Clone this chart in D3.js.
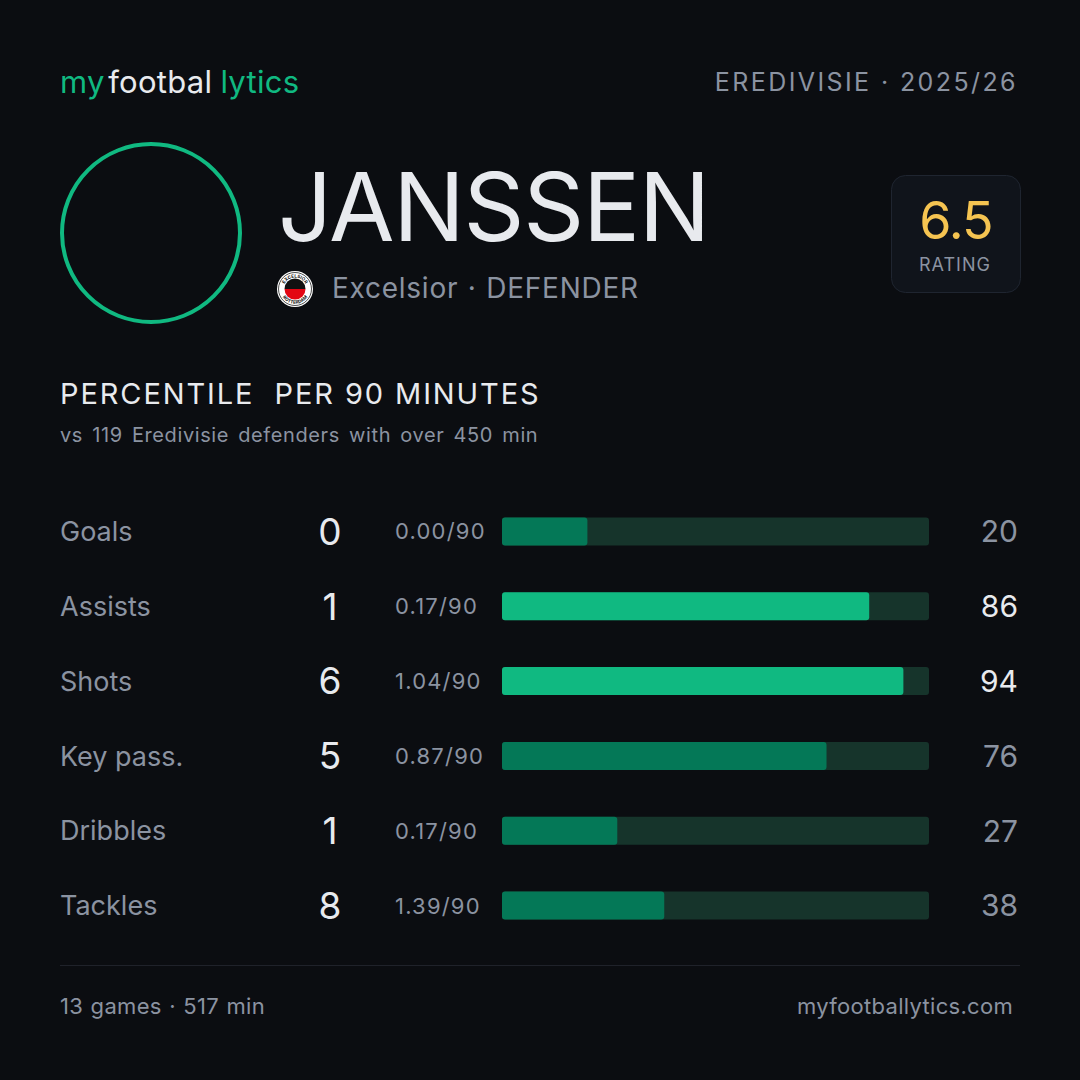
<!DOCTYPE html>
<html>
<head>
<meta charset="utf-8">
<script src="https://cdn.jsdelivr.net/npm/d3@7"></script>
<style>
  html, body { margin: 0; padding: 0; background: #0b0d11; }
  svg { display: block; font-family: Inter, "Noto Sans", sans-serif; }
</style>
</head>
<body>
<svg id="card" width="1080" height="1080"></svg>
<script>
// player data
const playerName = 'JANSSEN'
const club = 'Excelsior'
const position = 'DEFENDER'
const competition = 'EREDIVISIE · 2025/26'
const rating = '6.5'
const games = 13
const minutes = 517

// stat rows
const statLabels = ['Goals', 'Assists', 'Shots', 'Key pass.', 'Dribbles', 'Tackles']
const statTotals = [0, 1, 6, 5, 1, 8]
const statPer90 = ['0.00', '0.17', '1.04', '0.87', '0.17', '1.39']
const statPercentiles = [20, 86, 94, 76, 27, 38]

const W = 1080, H = 1080
const green = '#10b981', darkGreen = '#047857', track = '#16342b'
const gray = '#8b93a1', white = '#e8eaee'

const svg = d3.select('#card')
svg.append('rect').attr('width', W).attr('height', H).attr('fill', '#0b0d11')

// logo
const logo = svg.append('text').attr('x', 60).attr('y', 93)
  .style('font-size', '31px').style('letter-spacing', '0.3px')
logo.append('tspan').attr('fill', green).text('my')
logo.append('tspan').attr('fill', white).attr('dx', 3).text('footbal')
logo.append('tspan').attr('fill', green).attr('dx', 8).text('lytics')

svg.append('text').attr('x', 1018).attr('y', 91)
  .attr('text-anchor', 'end').attr('fill', gray)
  .style('font-size', '25px').style('letter-spacing', '2.4px')
  .text(competition)

// photo ring
svg.append('circle').attr('cx', 151).attr('cy', 233).attr('r', 89)
  .attr('fill', 'none').attr('stroke', green).attr('stroke-width', 4)

// name
svg.append('text').attr('x', 278).attr('y', 241).attr('fill', white)
  .style('font-size', '95px').style('letter-spacing', '-1.3px')
  .text(playerName)

// club badge
const badge = svg.append('g').attr('transform', 'translate(295,289)')
badge.append('circle').attr('r', 18).attr('fill', '#fff')
badge.append('circle').attr('r', 16.5).attr('fill', 'none').attr('stroke', '#222').attr('stroke-width', 0.8)
const half = d3.arc().innerRadius(0).outerRadius(10.5)
badge.append('path').attr('d', half({ startAngle: -Math.PI / 2, endAngle: Math.PI / 2 })).attr('fill', '#111')
badge.append('path').attr('d', half({ startAngle: Math.PI / 2, endAngle: Math.PI * 1.5 })).attr('fill', '#e30613')
badge.append('path').attr('id', 'badgeTop').attr('d', 'M -11.5,0 A 11.5,11.5 0 0 1 11.5,0').attr('fill', 'none')
badge.append('path').attr('id', 'badgeBottom').attr('d', 'M -14.8,0 A 14.8,14.8 0 0 0 14.8,0').attr('fill', 'none')
badge.append('text').style('font-size', '4.6px').style('font-weight', 700).attr('fill', '#111')
  .append('textPath').attr('href', '#badgeTop').attr('startOffset', '50%').attr('text-anchor', 'middle')
  .text('EXCELSIOR')
badge.append('text').style('font-size', '4.6px').style('font-weight', 700).attr('fill', '#111')
  .append('textPath').attr('href', '#badgeBottom').attr('startOffset', '50%').attr('text-anchor', 'middle')
  .text('ROTTERDAM')

svg.append('text').attr('x', 332).attr('y', 298).attr('fill', gray)
  .style('font-size', '28px').style('letter-spacing', '0.75px').style('word-spacing', '1px')
  .text(club + ' · ' + position)

// rating box
svg.append('rect').attr('x', 891.5).attr('y', 175.5).attr('width', 129).attr('height', 117)
  .attr('rx', 14).attr('fill', '#10141b').attr('stroke', '#1f2530')
svg.append('text').attr('x', 956).attr('y', 239).attr('text-anchor', 'middle')
  .attr('fill', '#f5c451').style('font-size', '52px').style('letter-spacing', '-1px')
  .text(rating)
svg.append('text').attr('x', 955).attr('y', 271).attr('text-anchor', 'middle')
  .attr('fill', gray).style('font-size', '18px').style('letter-spacing', '1px')
  .text('RATING')

// section title
svg.append('text').attr('x', 60).attr('y', 404).attr('fill', white)
  .style('font-size', '29px').style('letter-spacing', '1.9px').attr('xml:space', 'preserve')
  .text('PERCENTILE  PER 90 MINUTES')
svg.append('text').attr('x', 60).attr('y', 442).attr('fill', gray)
  .style('font-size', '20px').style('letter-spacing', '0.6px').style('word-spacing', '3px')
  .text('vs 119 Eredivisie defenders with over 450 min')

// rows
const y = d3.scaleBand().domain(statLabels).range([494, 943]).padding(0)
const x = d3.scaleLinear().domain([0, 100]).range([502, 929])
const barH = 28

const rows = svg.selectAll('.row')
  .data(statLabels.map((label, i) => ({
    label, total: statTotals[i], per90: statPer90[i], pct: statPercentiles[i]
  })))
  .enter().append('g').attr('class', 'row')
  .attr('transform', d => 'translate(0,' + (y(d.label) + y.bandwidth() / 2) + ')')

rows.append('text').attr('x', 60).attr('dy', '0.36em').attr('fill', gray)
  .style('font-size', '27px').text(d => d.label)

rows.append('text').attr('x', 330).attr('dy', '0.36em').attr('text-anchor', 'middle')
  .attr('fill', white).style('font-size', '37px').text(d => d.total)

rows.append('text').attr('x', 395).attr('dy', '0.36em').attr('fill', gray)
  .style('font-size', '22px').style('letter-spacing', '1.2px').text(d => d.per90 + '/90')

rows.append('rect').attr('x', x(0)).attr('y', -barH / 2)
  .attr('width', x(100) - x(0)).attr('height', barH).attr('rx', 3).attr('fill', track)

rows.append('rect').attr('x', x(0)).attr('y', -barH / 2)
  .attr('width', d => x(d.pct) - x(0)).attr('height', barH).attr('rx', 3)
  .attr('fill', d => d.pct >= 80 ? green : darkGreen)

rows.append('text').attr('x', 1018).attr('dy', '0.36em').attr('text-anchor', 'end')
  .attr('fill', d => d.pct >= 80 ? white : gray)
  .style('font-size', '30px').text(d => d.pct)

// footer
svg.append('line').attr('x1', 60).attr('x2', 1020).attr('y1', 965.5).attr('y2', 965.5)
  .attr('stroke', '#1f222a')
svg.append('text').attr('x', 60).attr('y', 1014).attr('fill', gray)
  .style('font-size', '22px').style('letter-spacing', '0.3px').style('word-spacing', '1px')
  .text(games + ' games · ' + minutes + ' min')
svg.append('text').attr('x', 1013).attr('y', 1014).attr('text-anchor', 'end').attr('fill', gray)
  .style('font-size', '22px').style('letter-spacing', '0.3px')
  .text('myfootballytics.com')
</script>
</body>
</html>
